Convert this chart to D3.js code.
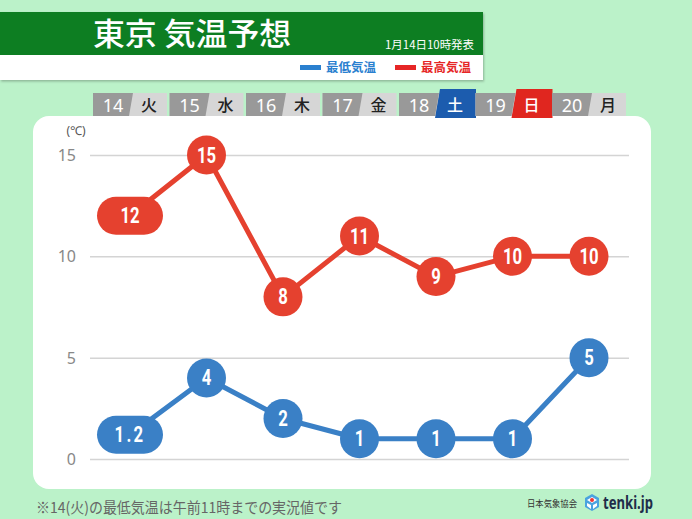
<!DOCTYPE html>
<html><head><meta charset="utf-8">
<script src="https://cdn.jsdelivr.net/npm/d3@7"></script>
<style>
html,body{margin:0;padding:0;background:#bbf2c9;}
svg{display:block;}
</style></head>
<body>
<svg id="chart" width="692" height="519"></svg>
<script>
const dates = ["14","15","16","17","18","19","20"];
const weekdays = ["火","水","木","金","土","日","月"];
const lowTemps = [1.2, 4, 2, 1, 1, 1, 5];
const highTemps = [12, 15, 8, 11, 9, 10, 10];
const highLabels = ["12","15","8","11","9","10","10"];
const lowLabels = ["1.2","4","2","1","1","1","5"];
const yTicks = [0, 5, 10, 15];
const title = "東京 気温予想";
const issued = "1月14日10時発表";
const legendLow = "最低気温";
const legendHigh = "最高気温";
const footnote = "※14(火)の最低気温は午前11時までの実況値です";

const svg = d3.select("#chart");
const W = 692, H = 519;
const JP = "'Noto Sans CJK JP','Noto Sans',sans-serif";
const NUMF = "'Roboto','Noto Sans',sans-serif";
const RED = "#e5412f", BLUE = "#3a80c6";

svg.append("rect").attr("width", W).attr("height", H).attr("fill", "#bbf2c9");

const defs = svg.append("defs");
const f = defs.append("filter").attr("id","sh").attr("x","-5%").attr("y","-10%").attr("width","110%").attr("height","130%");
f.append("feDropShadow").attr("dx",1).attr("dy",1.5).attr("stdDeviation",1).attr("flood-color","#000").attr("flood-opacity",0.25);

// Title bar
const tb = svg.append("g").attr("filter","url(#sh)");
tb.append("rect").attr("x",0).attr("y",55).attr("width",483).attr("height",25).attr("fill","#fff");
tb.append("rect").attr("x",0).attr("y",12).attr("width",483).attr("height",43).attr("fill","#087e20");
svg.append("text").attr("x",93).attr("y",45).attr("fill","#fff")
  .attr("font-family",JP).attr("font-size",31).attr("font-weight",500)
  .attr("textLength",198).attr("lengthAdjust","spacingAndGlyphs").text(title);
svg.append("text").attr("x",474).attr("y",49).attr("text-anchor","end").attr("fill","#fff")
  .attr("font-family",JP).attr("font-size",11.5)
  .attr("textLength",89).attr("lengthAdjust","spacingAndGlyphs").text(issued);
// legend
const legend = [{t:legendLow,c:"#2a80cf",x:300},{t:legendHigh,c:"#e62626",x:395}];
legend.forEach(l=>{
  svg.append("rect").attr("x",l.x).attr("y",65).attr("width",21).attr("height",5).attr("fill",l.c);
  svg.append("text").attr("x",l.x+26).attr("y",72).attr("fill",l.c)
    .attr("font-family",JP).attr("font-size",12).attr("font-weight",700)
    .attr("textLength",50).attr("lengthAdjust","spacingAndGlyphs").text(l.t);
});

// Panel
svg.append("rect").attr("x",33).attr("y",116).attr("width",618).attr("height",373).attr("rx",16).attr("fill","#fff");

// scales
const x = d3.scalePoint().domain(dates).range([130, 589]);
const y = d3.scaleLinear().domain([0, 15]).range([459, 155]);

// Day tabs
const tabs = svg.append("g");
dates.forEach((d,i)=>{
  const c = x(d);
  const g = tabs.append("g");
  g.append("rect").attr("x",c-37).attr("y",93).attr("width",74).attr("height",23).attr("fill","#d6d6d6");
  if (i===4 || i===5) {
    const col = i===4 ? "#1c5cae" : "#e0261f";
    g.append("polygon").attr("points",[[c+4,89],[c+40,89],[c+40,118],[c-1,118]].map(p=>p.join(",")).join(" ")).attr("fill",col);
  }
  g.append("polygon").attr("points",[[c-37,93],[c+3,93],[c-1,116],[c-37,116]].map(p=>p.join(",")).join(" ")).attr("fill","#999999");
  g.append("text").attr("x",c-17).attr("y",112).attr("text-anchor","middle").attr("fill","#fff")
    .attr("font-family","'Noto Sans',sans-serif").attr("font-size",18).text(d);
  g.append("text").attr("x",c+19).attr("y",110.5).attr("text-anchor","middle")
    .attr("fill",(i===4||i===5)?"#fff":"#222")
    .attr("font-family",JP).attr("font-size",16).attr("font-weight",500).text(weekdays[i]);
});

// y axis with grid
const yAxis = d3.axisLeft(y).tickValues(yTicks).tickSize(-(629-90)).tickPadding(14).tickFormat(d3.format("d"));
const ga = svg.append("g").attr("transform","translate(90,0)").call(yAxis);
ga.select(".domain").remove();
ga.selectAll(".tick line").attr("stroke","#d4d4d4").attr("stroke-width",1.5);
ga.selectAll(".tick text").attr("fill","#888").attr("font-size",16).attr("font-family","'Noto Sans',sans-serif").attr("dy","0.35em");
svg.append("text").attr("x",76).attr("y",135).attr("text-anchor","middle").attr("fill","#555")
  .attr("font-family","'Noto Sans',sans-serif").attr("font-size",12).text("(℃)");

// lines
const line = d3.line().x((v,i)=>x(dates[i])).y(v=>y(v));
[[highTemps,RED],[lowTemps,BLUE]].forEach(([arr,col])=>{
  svg.append("path").datum(arr).attr("d",line).attr("fill","none").attr("stroke",col).attr("stroke-width",5).attr("stroke-linejoin","round");
});

// markers
function markers(arr, labels, col){
  const g = svg.append("g");
  arr.forEach((v,i)=>{
    const cx = x(dates[i]), cy = y(v);
    const wide = labels[i].length > 2 || i===0;
    if (wide) {
      g.append("rect").attr("x",cx-33).attr("y",cy-19).attr("width",66).attr("height",38).attr("rx",19).attr("fill",col);
    } else {
      g.append("circle").attr("cx",cx).attr("cy",cy).attr("r",19.5).attr("fill",col);
    }
    g.append("text").attr("transform",`translate(${cx},${cy+7.5}) scale(0.76,1)`)
      .attr("text-anchor","middle").attr("fill","#fff")
      .attr("font-family",NUMF).attr("font-size",22).attr("font-weight",700)
      .attr("letter-spacing", labels[i]==="1.2" ? 3 : 0)
      .text(labels[i]);
  });
}
markers(highTemps, highLabels, RED);
markers(lowTemps, lowLabels, BLUE);

// footnote
svg.append("text").attr("x",36).attr("y",513).attr("fill","#666")
  .attr("font-family",JP).attr("font-size",15)
  .attr("textLength",306).attr("lengthAdjust","spacingAndGlyphs").text(footnote);

// logo
svg.append("text").attr("x",527).attr("y",507).attr("fill","#333")
  .attr("font-family",JP).attr("font-size",9.5).attr("textLength",50).attr("lengthAdjust","spacingAndGlyphs").text("日本気象協会");
const lg = svg.append("g").attr("transform","translate(592,502)");
lg.append("polygon").attr("points","0,-8 7,-4 7,5 0,9 -7,5 -7,-4").attr("fill","#4aa3df");
lg.append("polygon").attr("points","0,-5 5,-2 0,1 -5,-2").attr("fill","#fff");
lg.append("circle").attr("cx",0).attr("cy",-2).attr("r",2).attr("fill","#e33");
lg.append("path").attr("d","M-5,1 L-1,3 L-1,7 L-5,4 Z M5,1 L1,3 L1,7 L5,4 Z").attr("fill","#fff");
svg.append("text").attr("x",603).attr("y",509).attr("fill","#1f2d4a")
  .attr("font-family","'Noto Sans',sans-serif").attr("font-size",18).attr("font-weight",700)
  .attr("textLength",50).attr("lengthAdjust","spacingAndGlyphs").text("tenki.jp");
</script>
</body></html>
